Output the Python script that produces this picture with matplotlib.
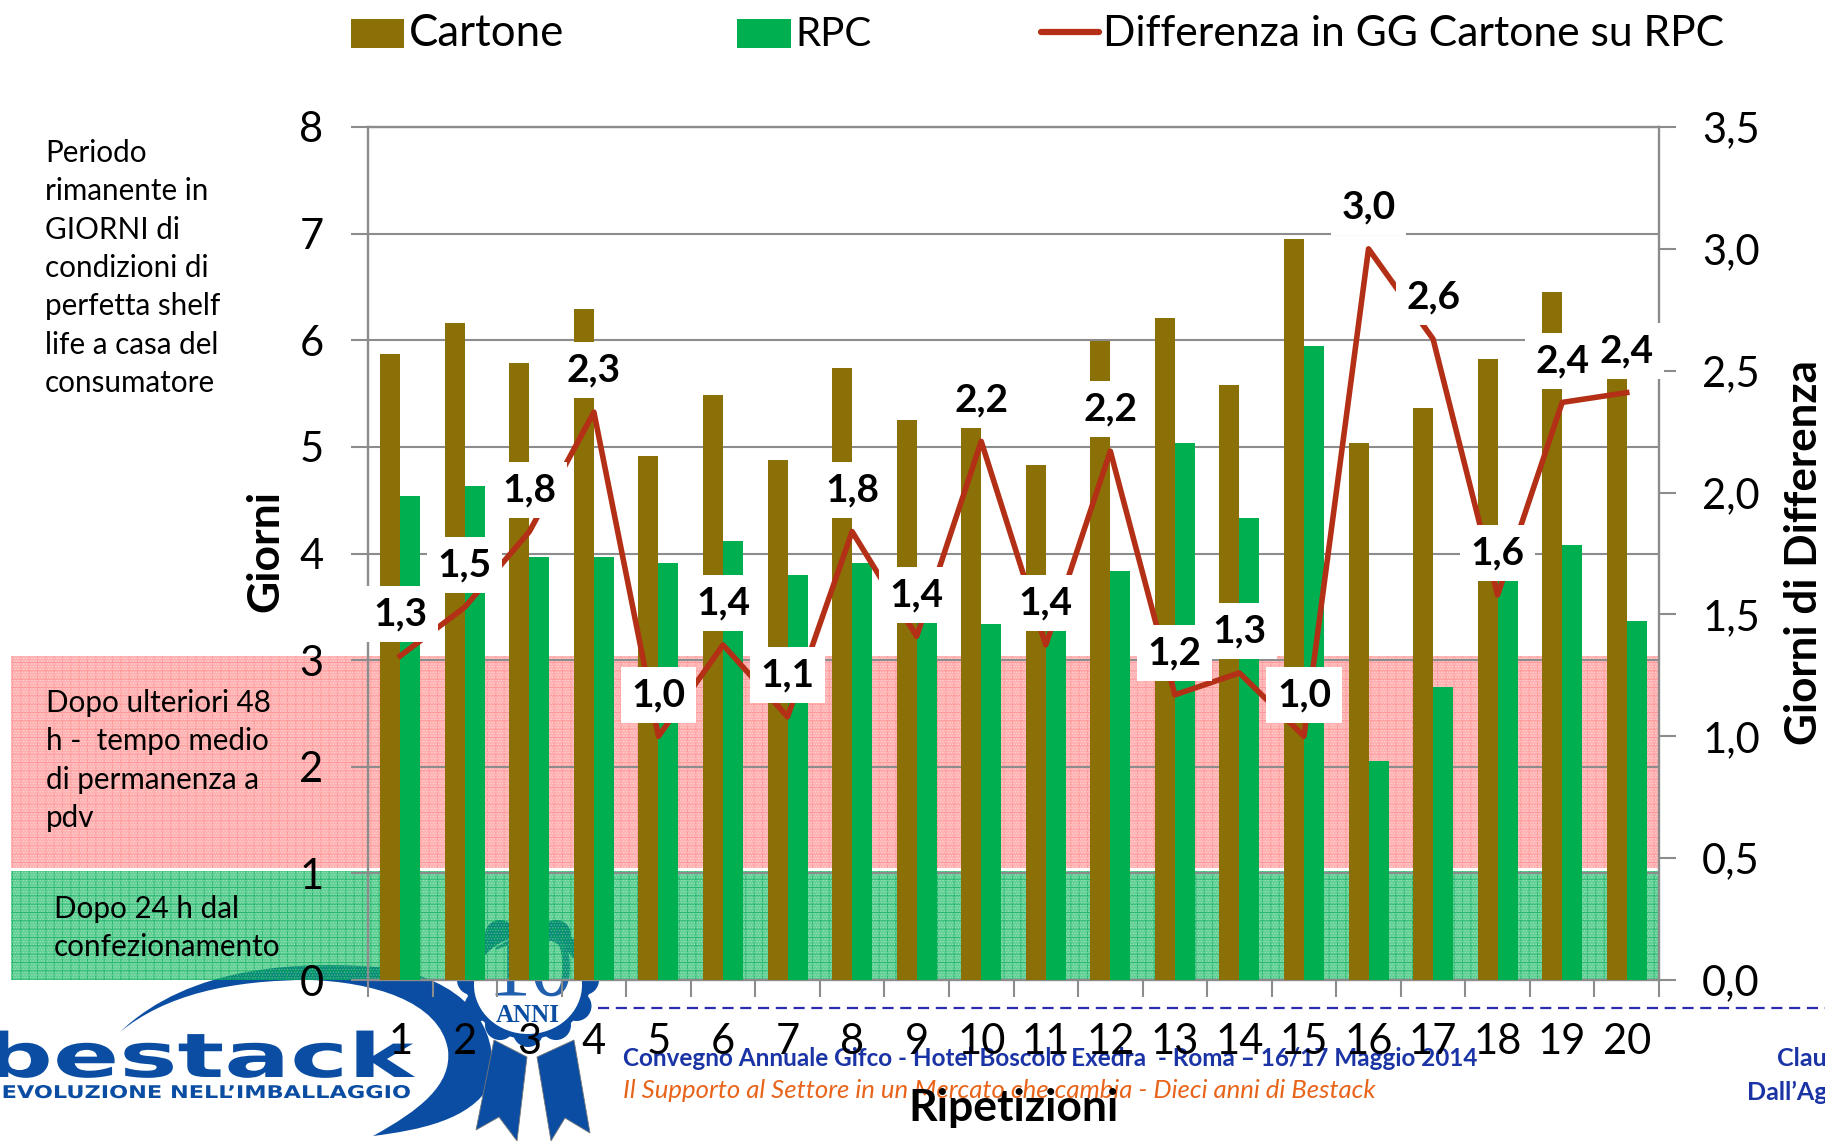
import numpy as np
import matplotlib
matplotlib.use("Agg")
import matplotlib.pyplot as plt
from matplotlib.patches import Rectangle, PathPatch, Polygon, Ellipse
from matplotlib.path import Path
from matplotlib.patheffects import AbstractPathEffect
from matplotlib.transforms import Affine2D

plt.rcParams['font.family'] = ['Lato', 'DejaVu Sans']
plt.rcParams['hatch.linewidth'] = 0.7

# =========================
# Data
# =========================
ripetizioni = list(range(1, 21))
cartone = [5.87, 6.16, 5.79, 6.29, 4.91, 5.49, 4.88, 5.74, 5.25, 5.19,
           4.83, 5.99, 6.21, 5.58, 6.95, 5.04, 5.36, 5.82, 6.45, 5.65]
rpc = [4.54, 4.63, 3.97, 3.97, 3.91, 4.12, 3.80, 3.91, 3.37, 3.34,
       3.29, 3.84, 5.04, 4.33, 5.95, 2.05, 2.75, 3.77, 4.08, 3.37]
differenza = [1.33, 1.53, 1.84, 2.33, 1.00, 1.375, 1.08, 1.84, 1.41, 2.21,
              1.375, 2.17, 1.17, 1.26, 1.00, 3.00, 2.63, 1.58, 2.37, 2.41]
etichette = ["1,3", "1,5", "1,8", "2,3", "1,0", "1,4", "1,1", "1,8", "1,4", "2,2",
             "1,4", "2,2", "1,2", "1,3", "1,0", "3,0", "2,6", "1,6", "2,4", "2,4"]
giorni_ticks = [0, 1, 2, 3, 4, 5, 6, 7, 8]
diff_ticks = [0, 0.5, 1, 1.5, 2, 2.5, 3, 3.5]
diff_labels = ["0,0", "0,5", "1,0", "1,5", "2,0", "2,5", "3,0", "3,5"]

testo_periodo = ["Periodo", "rimanente in", "GIORNI di", "condizioni di",
                 "perfetta shelf", "life a casa del", "consumatore"]
testo_48h = ["Dopo ulteriori 48", "h -  tempo medio", "di permanenza a", "pdv"]
testo_24h = ["Dopo 24 h dal", "confezionamento"]

MARRONE = "#8B6F07"
VERDE = "#00B050"
ROSSO = "#B32F16"
GRIGIO = "#8C8C8C"
BLU = "#0A4DA2"

W, H = 1825, 1141


class Allarga(AbstractPathEffect):
    # stretches the text sideways around a fixed pixel column, logo lettering is very wide
    def __init__(self, x0, sx):
        super().__init__()
        self.x0 = x0
        self.sx = sx

    def draw_path(self, renderer, gc, tpath, affine, rgbFace=None):
        t = affine + Affine2D().translate(-self.x0, 0).scale(self.sx, 1).translate(self.x0, 0)
        renderer.draw_path(gc, tpath, t, rgbFace)


fig = plt.figure(figsize=(W / 100, H / 100), dpi=100, facecolor="white")

# =========================
# Background layer, in pixels: logo, footer, bands, notes
# =========================
bg = fig.add_axes([0, 0, 1, 1], zorder=0)
bg.set_xlim(0, W)
bg.set_ylim(H, 0)
bg.axis("off")

# crescent
verts = [(120, 1032), (190, 965), (300, 960), (390, 968),
         (480, 985), (500, 1040), (490, 1085),
         (470, 1120), (420, 1130), (373, 1136),
         (420, 1110), (452, 1085), (448, 1050),
         (440, 1000), (370, 982), (310, 980),
         (230, 980), (165, 995), (120, 1032)]
codes = [Path.MOVETO] + [Path.CURVE4] * 18
bg.add_patch(PathPatch(Path(verts, codes), fc=BLU, ec="none", zorder=1))

# rosette and tails
bg.add_patch(Polygon([(494, 1040), (476, 1130), (499, 1117), (517, 1141), (527, 1057)],
                     fc=BLU, ec="#777777", lw=0.6, zorder=1))
bg.add_patch(Polygon([(537, 1057), (551, 1141), (565, 1118), (590, 1133), (574, 1040)],
                     fc=BLU, ec="#777777", lw=0.6, zorder=1))
for a in np.arange(0, 360, 30):
    bg.add_patch(Ellipse((528 + 56 * np.cos(np.radians(a)), 980 + 52 * np.sin(np.radians(a))),
                         30, 30, fc=BLU, ec="none", zorder=1.1))
bg.add_patch(Ellipse((528, 980), 125, 118, fc=BLU, ec="none", zorder=1.1))
bg.add_patch(Ellipse((528, 985), 108, 98, fc="white", ec="none", zorder=1.2))
bg.text(530, 974, "10", family="Liberation Serif", fontsize=62, color="#1F5FAE",
        ha="center", va="center", zorder=1.3)
bg.text(528, 1015, "ANNI", family="Liberation Serif", weight="bold", fontsize=18, color=BLU,
        ha="center", va="center", zorder=1.3)

bg.text(413, 1077, "bestack", family="DejaVu Sans", weight="bold", fontsize=44, color=BLU,
        ha="right", va="baseline", zorder=1.3, path_effects=[Allarga(413, 1.6)])
bg.text(411, 1093, "L’EVOLUZIONE NELL’IMBALLAGGIO", family="DejaVu Sans", weight="bold",
        fontsize=12.6, color=BLU, ha="right", va="center", zorder=1.3,
        path_effects=[Allarga(411, 1.28)])

# footer
bg.plot([598, W], [1008, 1008], color="#2B2BB0", lw=1.6, ls=(0, (5, 3)), zorder=1)
bg.text(623, 1059, "Convegno Annuale Gifco - Hotel Boscolo Exedra  - Roma – 16/17 Maggio 2014",
        weight="bold", fontsize=17.5, color="#1A33A5", va="center", zorder=1.3)
bg.text(623, 1091, "Il Supporto al Settore in un Mercato che cambia - Dieci anni di Bestack",
        style="italic", fontsize=18.5, color="#E8641B", va="center", zorder=1.3)
bg.text(1777, 1059, "Clau", weight="bold", fontsize=18, color="#1A33A5", va="center", zorder=1.3)
bg.text(1747, 1092, "Dall’Ag", weight="bold", fontsize=18, color="#1A33A5", va="center", zorder=1.3)

# bands, see-through so the rosette shows under them
bg.add_patch(Rectangle((11, 656), 1648, 212, fc=(1, 0, 0, 0.30), ec="none", zorder=2))
bg.add_patch(Rectangle((11, 656), 1648, 212, fc="none", ec=(1, 0.5, 0.5, 0.5),
                       hatch="++", lw=0, zorder=2.1))
bg.add_patch(Rectangle((11, 656), 1648, 212, fc="none", ec=(1, 1, 1, 0.35),
                       hatch="......", lw=0, zorder=2.2))
bg.add_patch(Rectangle((11, 871), 1648, 109, fc=(0, 0.70, 0.33, 0.62), ec="none", zorder=2))
bg.add_patch(Rectangle((11, 871), 1648, 109, fc="none", ec=(0, 0.66, 0.33, 0.6),
                       hatch="++", lw=0, zorder=2.1))
bg.add_patch(Rectangle((11, 871), 1648, 109, fc="none", ec=(1, 1, 1, 0.3),
                       hatch="......", lw=0, zorder=2.2))

for i, riga in enumerate(testo_periodo):
    bg.text(45, 153 + i * 38.3, riga, fontsize=21.3, color="black", va="center", zorder=3)
for i, riga in enumerate(testo_48h):
    bg.text(46, 703 + i * 38.3, riga, fontsize=21.3, color="black", va="center", zorder=3)
for i, riga in enumerate(testo_24h):
    bg.text(54, 909 + i * 38.5, riga, fontsize=21.3, color="black", va="center", zorder=3)

# legend
bg.add_patch(Rectangle((351, 19), 53, 29, fc=MARRONE, ec="none"))
bg.text(409, 34, "Cartone", fontsize=31.5, va="center")
bg.add_patch(Rectangle((737, 19), 54, 29, fc=VERDE, ec="none"))
bg.text(795, 34, "RPC", fontsize=29, va="center")
bg.plot([1041, 1099], [32, 32], color=ROSSO, lw=4.5, solid_capstyle="round")
bg.text(1103, 34, "Differenza in GG Cartone su RPC", fontsize=30.7, va="center")

# =========================
# Chart
# =========================
ax = fig.add_axes([368 / W, 1 - 980 / H, (1659 - 368) / W, (980 - 127) / H], zorder=2)
ax.patch.set_alpha(0)
x = np.array(ripetizioni)
larg = 0.31
ax.bar(x - larg / 2, cartone, larg, color=MARRONE, zorder=3)
ax.bar(x + larg / 2, rpc, larg, color=VERDE, zorder=3)
ax.set_xlim(0.5, 20.5)
ax.set_ylim(0, 8)
ax.set_yticks(giorni_ticks)
ax.yaxis.grid(True, color=GRIGIO, lw=1.5, zorder=1)
ax.set_axisbelow(True)
ax.set_xticks(x)
ax.set_xticklabels(ripetizioni)
ax.set_xticks(np.arange(0.5, 21, 1), minor=True)
ax.tick_params(axis="x", which="major", length=0, pad=31, labelsize=30)
ax.tick_params(axis="x", which="minor", length=12, width=1.5, color=GRIGIO)
ax.tick_params(axis="y", length=12, width=1.5, color=GRIGIO, pad=20, labelsize=30)
for s in ax.spines.values():
    s.set_color(GRIGIO)
    s.set_linewidth(1.7)
ax.spines["right"].set_visible(False)

ax2 = ax.twinx()
ax2.patch.set_alpha(0)
ax2.plot(x, differenza, color=ROSSO, lw=4, solid_joinstyle="round", zorder=4)
ax2.set_ylim(0, 3.5)
ax2.set_yticks(diff_ticks)
ax2.set_yticklabels(diff_labels)
ax2.tick_params(axis="y", length=12, width=1.5, color=GRIGIO, pad=19, labelsize=30)
for s in ax2.spines.values():
    s.set_visible(False)
ax2.spines["right"].set_visible(True)
ax2.spines["right"].set_color(GRIGIO)
ax2.spines["right"].set_linewidth(1.7)

for xi, d, t in zip(x, differenza, etichette):
    ax2.annotate(t, (xi, d), xytext=(0, 30), textcoords="offset points", ha="center", va="center",
                 fontsize=28, weight="bold", zorder=10, annotation_clip=False,
                 bbox=dict(boxstyle="square,pad=0.27", fc="white", ec="none"))

# axis titles on top of everything
fg = fig.add_axes([0, 0, 1, 1], zorder=3)
fg.set_xlim(0, W)
fg.set_ylim(H, 0)
fg.axis("off")
fg.text(265, 551, "Giorni", rotation=90, weight="bold", fontsize=32, ha="center", va="center")
fg.text(1804, 553, "Giorni di Differenza", rotation=90, weight="bold", fontsize=31.7, ha="center", va="center")
fg.text(1014, 1108, "Ripetizioni", weight="bold", fontsize=32, ha="center", va="center")

fig.savefig("out.png", dpi=100)
